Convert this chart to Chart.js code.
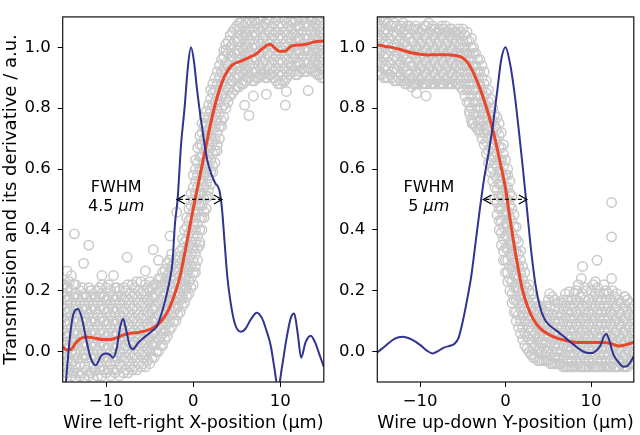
<!DOCTYPE html>
<html>
<head>
<meta charset="utf-8">
<script src="https://cdn.jsdelivr.net/npm/chart.js@4.4.1/dist/chart.umd.min.js"></script>
<style>
  body { margin: 0; background: #fff; }
  #wrap { position: relative; width: 640px; height: 435px; }
  canvas { position: absolute; top: 0; }
</style>
</head>
<body>
<div id="wrap">
  <canvas id="left" width="330" height="435" style="left:0"></canvas>
  <canvas id="right" width="310" height="435" style="left:330px"></canvas>
</div>
<script>
'use strict';

// axes
var xTicks = [-10, 0, 10];
var yTicks = [0.0, 0.2, 0.4, 0.6, 0.8, 1.0];
var xTitleLeft = 'Wire left-right X-position (µm)';
var xTitleRight = 'Wire up-down Y-position (µm)';
var yTitle = 'Transmission and its derivative / a.u.';

// measured transmission, one column per position: [x, y, y, ...]
var leftCloud = [
  [-15.0, -0.05, -0.01, 0.03, 0.07, 0.11, 0.15, 0.19, 0.22],
  [-14.5, -0.07, -0.03, 0.01, 0.05, 0.09, 0.13, 0.17, 0.21],
  [-14.0, -0.08, -0.04, 0.0, 0.04, 0.08, 0.12, 0.16, 0.2, 0.25],
  [-13.5, -0.09, -0.05, -0.01, 0.03, 0.07, 0.11, 0.15, 0.19, 0.22],
  [-13.0, -0.08, -0.04, 0.0, 0.04, 0.08, 0.12, 0.16, 0.2],
  [-12.5, -0.09, -0.05, -0.01, 0.03, 0.07, 0.11, 0.15, 0.19],
  [-12.0, -0.08, -0.04, 0.0, 0.04, 0.08, 0.12, 0.16, 0.21],
  [-11.5, -0.09, -0.05, -0.01, 0.03, 0.07, 0.11, 0.15, 0.19],
  [-11.0, -0.08, -0.04, 0.0, 0.04, 0.08, 0.12, 0.16, 0.2],
  [-10.5, -0.08, -0.05, -0.01, 0.03, 0.07, 0.11, 0.15, 0.19, 0.22],
  [-10.0, -0.07, -0.03, 0.01, 0.05, 0.09, 0.13, 0.17, 0.21],
  [-9.5, -0.08, -0.04, 0.0, 0.04, 0.08, 0.12, 0.16, 0.2],
  [-9.0, -0.07, -0.03, 0.01, 0.05, 0.09, 0.13, 0.17, 0.21],
  [-8.5, -0.08, -0.04, 0.0, 0.04, 0.08, 0.12, 0.16, 0.2],
  [-8.0, -0.07, -0.03, 0.01, 0.05, 0.09, 0.13, 0.17, 0.21],
  [-7.5, -0.07, -0.03, 0.01, 0.05, 0.09, 0.13, 0.17, 0.22],
  [-7.0, -0.06, -0.02, 0.02, 0.06, 0.1, 0.14, 0.18, 0.22],
  [-6.5, -0.06, -0.02, 0.02, 0.06, 0.1, 0.14, 0.18, 0.23],
  [-6.0, -0.05, -0.01, 0.03, 0.07, 0.11, 0.15, 0.19, 0.23],
  [-5.5, -0.05, -0.01, 0.03, 0.07, 0.11, 0.15, 0.19, 0.22],
  [-5.0, -0.04, 0.0, 0.04, 0.08, 0.12, 0.16, 0.2, 0.23],
  [-4.5, -0.02, 0.02, 0.06, 0.1, 0.14, 0.18, 0.22],
  [-4.0, 0.0, 0.04, 0.08, 0.12, 0.16, 0.2, 0.24],
  [-3.5, 0.02, 0.06, 0.1, 0.14, 0.18, 0.22, 0.26],
  [-3.0, 0.05, 0.09, 0.13, 0.17, 0.21, 0.25, 0.29],
  [-2.5, 0.08, 0.12, 0.16, 0.2, 0.24, 0.28, 0.32],
  [-2.0, 0.1, 0.14, 0.18, 0.22, 0.26, 0.3],
  [-1.5, 0.13, 0.17, 0.21, 0.25, 0.29, 0.33],
  [-1.0, 0.16, 0.2, 0.24, 0.28, 0.32, 0.36, 0.4],
  [-0.5, 0.19, 0.23, 0.27, 0.31, 0.35, 0.39, 0.43, 0.47],
  [0.0, 0.22, 0.26, 0.3, 0.34, 0.38, 0.42, 0.46, 0.5, 0.54, 0.58],
  [0.5, 0.3, 0.34, 0.38, 0.42, 0.46, 0.5, 0.54, 0.58, 0.62, 0.67],
  [1.0, 0.4, 0.44, 0.48, 0.52, 0.56, 0.6, 0.64, 0.68, 0.72, 0.75],
  [1.5, 0.47, 0.51, 0.55, 0.59, 0.63, 0.67, 0.71, 0.75, 0.79],
  [2.0, 0.55, 0.59, 0.63, 0.67, 0.71, 0.75, 0.79, 0.83, 0.86],
  [2.5, 0.62, 0.66, 0.7, 0.74, 0.78, 0.82, 0.86, 0.9],
  [3.0, 0.7, 0.74, 0.78, 0.82, 0.86, 0.9, 0.94],
  [3.5, 0.77, 0.81, 0.85, 0.89, 0.93, 0.97, 0.99],
  [4.0, 0.82, 0.86, 0.9, 0.94, 0.98, 1.02],
  [4.5, 0.85, 0.89, 0.93, 0.97, 1.01, 1.05],
  [5.0, 0.87, 0.91, 0.95, 0.99, 1.03, 1.07],
  [5.5, 0.88, 0.92, 0.96, 1.0, 1.04, 1.08],
  [6.0, 0.89, 0.93, 0.97, 1.01, 1.05, 1.08],
  [6.5, 0.9, 0.94, 0.98, 1.02, 1.06, 1.09],
  [7.0, 0.89, 0.93, 0.97, 1.01, 1.05, 1.09],
  [7.5, 0.9, 0.94, 0.98, 1.02, 1.06, 1.09],
  [8.0, 0.91, 0.95, 0.99, 1.03, 1.07, 1.1],
  [8.5, 0.9, 0.94, 0.98, 1.02, 1.06, 1.09],
  [9.0, 0.91, 0.95, 0.99, 1.03, 1.07],
  [9.5, 0.89, 0.93, 0.97, 1.01, 1.05, 1.09],
  [10.0, 0.88, 0.92, 0.96, 1.0, 1.04, 1.08],
  [10.5, 0.89, 0.93, 0.97, 1.01, 1.05, 1.09],
  [11.0, 0.91, 0.95, 0.99, 1.03, 1.07],
  [11.5, 0.92, 0.96, 1.0, 1.04, 1.08],
  [12.0, 0.91, 0.95, 0.99, 1.03, 1.07, 1.1],
  [12.5, 0.93, 0.97, 1.01, 1.05, 1.09],
  [13.0, 0.92, 0.96, 1.0, 1.04, 1.08],
  [13.5, 0.93, 0.97, 1.01, 1.05, 1.09],
  [14.0, 0.92, 0.96, 1.0, 1.04, 1.08],
  [14.5, 0.91, 0.95, 0.99, 1.03, 1.07],
  [15.0, 0.9, 0.94, 0.98, 1.02, 1.06]
];
// second pass of readings, between the columns above
var leftCloudB = [
  [-14.75, -0.06, -0.02, 0.02, 0.06, 0.1, 0.14, 0.18, 0.22],
  [-14.25, -0.06, -0.02, 0.02, 0.06, 0.1, 0.14, 0.18, 0.23],
  [-13.75, -0.07, -0.03, 0.02, 0.06, 0.1, 0.14, 0.18, 0.22],
  [-13.25, -0.07, -0.02, 0.02, 0.06, 0.1, 0.14, 0.18],
  [-12.75, -0.07, -0.02, 0.02, 0.06, 0.1, 0.14, 0.18, 0.21],
  [-12.25, -0.06, -0.02, 0.02, 0.06, 0.1, 0.14, 0.18],
  [-11.75, -0.07, -0.02, 0.02, 0.06, 0.1, 0.14, 0.18, 0.2],
  [-11.25, -0.06, -0.02, 0.02, 0.06, 0.1, 0.14, 0.18],
  [-10.75, -0.06, -0.02, 0.02, 0.06, 0.1, 0.14, 0.18, 0.21],
  [-10.25, -0.06, -0.02, 0.02, 0.06, 0.1, 0.14, 0.18],
  [-9.75, -0.06, -0.02, 0.02, 0.06, 0.1, 0.14, 0.18, 0.22],
  [-9.25, -0.06, -0.02, 0.02, 0.06, 0.1, 0.14, 0.18],
  [-8.75, -0.06, -0.02, 0.02, 0.06, 0.1, 0.14, 0.18, 0.21],
  [-8.25, -0.05, -0.02, 0.02, 0.06, 0.1, 0.14, 0.18],
  [-7.75, -0.06, -0.02, 0.02, 0.06, 0.1, 0.14, 0.18, 0.2],
  [-7.25, -0.05, -0.01, 0.03, 0.07, 0.11, 0.15, 0.19],
  [-6.75, -0.05, -0.01, 0.03, 0.07, 0.11, 0.15, 0.19, 0.21],
  [-6.25, -0.04, 0.0, 0.04, 0.08, 0.12, 0.16, 0.2],
  [-5.75, -0.04, 0.0, 0.04, 0.08, 0.12, 0.16, 0.2],
  [-5.25, -0.03, 0.01, 0.05, 0.09, 0.13, 0.17, 0.21],
  [-4.75, -0.02, 0.02, 0.06, 0.1, 0.14, 0.18, 0.21],
  [-4.25, 0.0, 0.03, 0.07, 0.11, 0.15, 0.19, 0.22],
  [-3.75, 0.02, 0.05, 0.09, 0.13, 0.17, 0.21, 0.24],
  [-3.25, 0.04, 0.07, 0.11, 0.15, 0.19, 0.23, 0.27],
  [-2.75, 0.07, 0.1, 0.14, 0.18, 0.22, 0.26, 0.3],
  [-2.25, 0.1, 0.13, 0.17, 0.21, 0.25, 0.29],
  [-1.75, 0.12, 0.15, 0.19, 0.23, 0.27, 0.31],
  [-1.25, 0.15, 0.18, 0.22, 0.26, 0.3, 0.34, 0.37],
  [-0.75, 0.18, 0.21, 0.25, 0.29, 0.33, 0.37, 0.41, 0.44],
  [-0.25, 0.21, 0.24, 0.28, 0.32, 0.36, 0.4, 0.44, 0.48, 0.52],
  [0.25, 0.26, 0.28, 0.32, 0.36, 0.4, 0.44, 0.48, 0.52, 0.56, 0.6, 0.63],
  [0.75, 0.35, 0.36, 0.4, 0.44, 0.48, 0.52, 0.56, 0.6, 0.64, 0.68, 0.71],
  [1.25, 0.44, 0.46, 0.5, 0.54, 0.58, 0.62, 0.66, 0.7, 0.74, 0.77],
  [1.75, 0.51, 0.53, 0.57, 0.61, 0.65, 0.69, 0.73, 0.77, 0.81],
  [2.25, 0.59, 0.61, 0.65, 0.69, 0.73, 0.77, 0.81, 0.85, 0.88],
  [2.75, 0.66, 0.68, 0.72, 0.76, 0.8, 0.84, 0.88, 0.92],
  [3.25, 0.74, 0.76, 0.8, 0.84, 0.88, 0.92, 0.96],
  [3.75, 0.8, 0.83, 0.87, 0.91, 0.95, 0.99, 1.01],
  [4.25, 0.84, 0.88, 0.92, 0.96, 1.0, 1.04],
  [4.75, 0.86, 0.9, 0.94, 0.98, 1.02, 1.06],
  [5.25, 0.87, 0.9, 0.94, 0.98, 1.02, 1.06, 1.08],
  [5.75, 0.88, 0.91, 0.95, 0.99, 1.03, 1.07],
  [6.25, 0.9, 0.92, 0.96, 1.0, 1.04, 1.08],
  [6.75, 0.89, 0.92, 0.96, 1.0, 1.04, 1.08],
  [7.25, 0.9, 0.92, 0.96, 1.0, 1.04, 1.08],
  [7.75, 0.91, 0.93, 0.97, 1.01, 1.05, 1.09],
  [8.25, 0.9, 0.92, 0.96, 1.0, 1.04, 1.08],
  [8.75, 0.91, 0.93, 0.97, 1.01, 1.05, 1.09],
  [9.25, 0.9, 0.92, 0.96, 1.0, 1.04, 1.08],
  [9.75, 0.88, 0.91, 0.95, 0.99, 1.03, 1.07],
  [10.25, 0.89, 0.91, 0.95, 0.99, 1.03, 1.07],
  [10.75, 0.9, 0.92, 0.96, 1.0, 1.04, 1.08],
  [11.25, 0.92, 0.94, 0.98, 1.02, 1.06, 1.09],
  [11.75, 0.91, 0.94, 0.98, 1.02, 1.06, 1.09],
  [12.25, 0.92, 0.95, 0.99, 1.03, 1.07],
  [12.75, 0.92, 0.95, 0.99, 1.03, 1.07, 1.1],
  [13.25, 0.93, 0.95, 0.99, 1.03, 1.07],
  [13.75, 0.92, 0.95, 0.99, 1.03, 1.07, 1.1],
  [14.25, 0.91, 0.94, 0.98, 1.02, 1.06, 1.09],
  [14.75, 0.9, 0.93, 0.97, 1.01, 1.05, 1.08]
];
var leftOutliers = [
  [-13.66, 0.387], [-12.0, 0.35], [-12.6, 0.29], [-7.6, 0.31], [-4.6, 0.335],
  [-4.0, 0.3], [-14.5, 0.265], [-1.9, 0.458], [-2.67, 0.38], [-10.5, 0.25],
  [-5.5, 0.265], [-9.16, 0.25], [6.4, 0.776], [8.4, 0.846], [10.58, 0.81],
  [10.7, 0.855], [13.2, 0.858], [6.9, 0.84], [5.9, 0.81]
];
// smoothed transmission and its derivative: [x, y]
var leftTransmission = [
  [-15, 0.015], [-14.5, 0.005], [-14, 0.008], [-13.5, 0.028], [-13, 0.042],
  [-12.3, 0.048], [-11.5, 0.045], [-10.5, 0.04], [-9.5, 0.04], [-8.8, 0.045],
  [-8, 0.055], [-7.2, 0.06], [-6.3, 0.063], [-5.5, 0.068], [-4.8, 0.075],
  [-4.2, 0.085], [-3.6, 0.103], [-3, 0.128], [-2.5, 0.16], [-2, 0.2],
  [-1.5, 0.25], [-1, 0.32], [-0.5, 0.395], [0, 0.47], [0.5, 0.54],
  [1, 0.61], [1.5, 0.68], [2, 0.75], [2.5, 0.81], [3, 0.86],
  [3.6, 0.905], [4.4, 0.94], [5.5, 0.955], [6.5, 0.968], [7.3, 0.98],
  [8, 0.997], [8.8, 1.01], [9.3, 1.0], [9.8, 0.988], [10.5, 0.987],
  [11.2, 1.003], [12.2, 1.008], [13, 1.01], [13.8, 1.017], [14.5, 1.02], [15, 1.02]
];
var leftDerivative = [
  [-15, -0.22], [-14.6, -0.09], [-14.2, 0.04], [-13.8, 0.12], [-13.25, 0.14],
  [-12.8, 0.11], [-12.3, 0.04], [-11.8, -0.02], [-11.2, -0.045], [-10.6, -0.015],
  [-10.1, -0.006], [-9.6, -0.01], [-9.2, -0.02], [-8.8, 0.01], [-8.4, 0.08],
  [-8.05, 0.107], [-7.7, 0.07], [-7.3, 0.02], [-6.95, 0.008], [-6.3, 0.03],
  [-5.5, 0.05], [-4.8, 0.066], [-4.2, 0.082], [-3.7, 0.12], [-3.25, 0.165],
  [-2.7, 0.235], [-2.4, 0.29], [-2.1, 0.42], [-1.8, 0.5], [-1.4, 0.68],
  [-1, 0.8], [-0.6, 0.94], [-0.26, 1.0], [0.1, 0.95], [0.4, 0.87],
  [0.8, 0.78], [1.2, 0.7], [1.6, 0.63], [2, 0.59], [2.5, 0.555],
  [3, 0.53], [3.3, 0.47], [3.6, 0.36], [3.9, 0.25], [4.3, 0.16],
  [4.8, 0.09], [5.5, 0.065], [6, 0.075], [6.6, 0.105], [7.3, 0.128],
  [7.9, 0.11], [8.4, 0.07], [8.9, 0.02], [9.3, -0.05], [9.75, -0.12],
  [10.2, -0.05], [10.7, 0.04], [11.2, 0.11], [11.6, 0.125], [12, 0.06],
  [12.4, -0.02], [12.9, 0.03], [13.5, 0.052], [14, 0.03], [14.5, -0.01], [15, -0.05]
];

var rightCloud = [
  [-15.0, 0.92, 0.96, 1.0, 1.04, 1.08],
  [-14.5, 0.91, 0.95, 0.99, 1.03, 1.07, 1.1],
  [-14.0, 0.9, 0.94, 0.98, 1.02, 1.06, 1.09],
  [-13.5, 0.91, 0.95, 0.99, 1.03, 1.07],
  [-13.0, 0.89, 0.93, 0.97, 1.01, 1.05, 1.08],
  [-12.5, 0.9, 0.94, 0.98, 1.02, 1.06],
  [-12.0, 0.89, 0.93, 0.97, 1.01, 1.05, 1.08],
  [-11.5, 0.88, 0.92, 0.96, 1.0, 1.04, 1.07],
  [-11.0, 0.9, 0.94, 0.98, 1.02, 1.06],
  [-10.5, 0.88, 0.92, 0.96, 1.0, 1.04, 1.07],
  [-10.0, 0.89, 0.93, 0.97, 1.01, 1.05],
  [-9.5, 0.88, 0.92, 0.96, 1.0, 1.04, 1.07],
  [-9.0, 0.89, 0.93, 0.97, 1.01, 1.05, 1.08],
  [-8.5, 0.88, 0.92, 0.96, 1.0, 1.04, 1.07],
  [-8.0, 0.89, 0.93, 0.97, 1.01, 1.05],
  [-7.5, 0.88, 0.92, 0.96, 1.0, 1.04, 1.07],
  [-7.0, 0.89, 0.93, 0.97, 1.01, 1.05, 1.07],
  [-6.5, 0.88, 0.92, 0.96, 1.0, 1.04, 1.06],
  [-6.0, 0.89, 0.93, 0.97, 1.01, 1.05],
  [-5.5, 0.88, 0.92, 0.96, 1.0, 1.04, 1.06],
  [-5.0, 0.86, 0.9, 0.94, 0.98, 1.02, 1.06],
  [-4.5, 0.82, 0.86, 0.9, 0.94, 0.98, 1.02, 1.05],
  [-4.0, 0.76, 0.8, 0.84, 0.88, 0.92, 0.96, 1.0, 1.03],
  [-3.5, 0.74, 0.78, 0.82, 0.86, 0.9, 0.94, 0.98],
  [-3.0, 0.72, 0.76, 0.8, 0.84, 0.88, 0.92, 0.96],
  [-2.5, 0.68, 0.72, 0.76, 0.8, 0.84, 0.88, 0.92],
  [-2.0, 0.62, 0.66, 0.7, 0.74, 0.78, 0.82, 0.86],
  [-1.5, 0.56, 0.6, 0.64, 0.68, 0.72, 0.76, 0.8],
  [-1.0, 0.45, 0.49, 0.53, 0.57, 0.61, 0.65, 0.69, 0.73, 0.77],
  [-0.5, 0.35, 0.39, 0.43, 0.47, 0.51, 0.55, 0.59, 0.63, 0.67, 0.72],
  [0.0, 0.26, 0.3, 0.34, 0.38, 0.42, 0.46, 0.5, 0.54, 0.58, 0.63],
  [0.5, 0.2, 0.24, 0.28, 0.32, 0.36, 0.4, 0.44, 0.48, 0.52, 0.56],
  [1.0, 0.13, 0.17, 0.21, 0.25, 0.29, 0.33, 0.37, 0.41, 0.45],
  [1.5, 0.08, 0.12, 0.16, 0.2, 0.24, 0.28, 0.32, 0.36],
  [2.0, 0.04, 0.08, 0.12, 0.16, 0.2, 0.24, 0.28],
  [2.5, 0.01, 0.05, 0.09, 0.13, 0.17, 0.21],
  [3.0, -0.01, 0.03, 0.07, 0.11, 0.15, 0.19],
  [3.5, -0.02, 0.02, 0.06, 0.1, 0.14, 0.16],
  [4.0, -0.03, 0.01, 0.05, 0.09, 0.13, 0.15],
  [4.5, -0.03, 0.01, 0.05, 0.09, 0.13],
  [5.0, -0.03, 0.01, 0.05, 0.09, 0.13, 0.17],
  [5.5, -0.04, 0.0, 0.04, 0.08, 0.12, 0.18],
  [6.0, -0.04, 0.0, 0.04, 0.08, 0.12, 0.16],
  [6.5, -0.04, 0.0, 0.04, 0.08, 0.12, 0.16],
  [7.0, -0.05, -0.01, 0.03, 0.07, 0.11, 0.15, 0.19],
  [7.5, -0.05, -0.01, 0.03, 0.07, 0.11, 0.15],
  [8.0, -0.05, -0.01, 0.03, 0.07, 0.11, 0.15, 0.19],
  [8.5, -0.04, 0.0, 0.04, 0.08, 0.12, 0.16, 0.22],
  [9.0, -0.05, -0.01, 0.03, 0.07, 0.11, 0.15, 0.19],
  [9.5, -0.05, -0.01, 0.03, 0.07, 0.11, 0.15, 0.2],
  [10.0, -0.04, 0.0, 0.04, 0.08, 0.12, 0.16, 0.2],
  [10.5, -0.05, -0.01, 0.03, 0.07, 0.11, 0.15, 0.19, 0.23],
  [11.0, -0.05, -0.01, 0.03, 0.07, 0.11, 0.15, 0.19],
  [11.5, -0.05, -0.01, 0.03, 0.07, 0.11, 0.15, 0.19, 0.22],
  [12.0, -0.05, -0.01, 0.03, 0.07, 0.11, 0.15, 0.19],
  [12.5, -0.04, 0.0, 0.04, 0.08, 0.12, 0.16, 0.2],
  [13.0, -0.05, -0.01, 0.03, 0.07, 0.11, 0.15, 0.19],
  [13.5, -0.04, 0.0, 0.04, 0.08, 0.12, 0.16],
  [14.0, -0.05, -0.01, 0.03, 0.07, 0.11, 0.15, 0.18],
  [14.5, -0.04, 0.0, 0.04, 0.08, 0.12, 0.16],
  [15.0, -0.04, 0.0, 0.04, 0.08, 0.12, 0.15]
];
var rightCloudB = [
  [-14.75, 0.91, 0.94, 0.98, 1.02, 1.06, 1.09],
  [-14.25, 0.9, 0.93, 0.97, 1.01, 1.05, 1.09],
  [-13.75, 0.9, 0.93, 0.97, 1.01, 1.05, 1.08],
  [-13.25, 0.9, 0.92, 0.96, 1.0, 1.04, 1.07],
  [-12.75, 0.89, 0.92, 0.96, 1.0, 1.04, 1.07],
  [-12.25, 0.89, 0.91, 0.95, 0.99, 1.03, 1.07],
  [-11.75, 0.88, 0.9, 0.94, 0.98, 1.02, 1.06],
  [-11.25, 0.89, 0.91, 0.95, 0.99, 1.03, 1.07],
  [-10.75, 0.88, 0.9, 0.94, 0.98, 1.02, 1.06],
  [-10.25, 0.88, 0.91, 0.95, 0.99, 1.03, 1.06],
  [-9.75, 0.88, 0.9, 0.94, 0.98, 1.02, 1.06],
  [-9.25, 0.88, 0.91, 0.95, 0.99, 1.03, 1.07],
  [-8.75, 0.88, 0.9, 0.94, 0.98, 1.02, 1.06],
  [-8.25, 0.88, 0.91, 0.95, 0.99, 1.03, 1.06],
  [-7.75, 0.88, 0.9, 0.94, 0.98, 1.02, 1.06],
  [-7.25, 0.88, 0.91, 0.95, 0.99, 1.03, 1.06],
  [-6.75, 0.88, 0.9, 0.94, 0.98, 1.02, 1.05],
  [-6.25, 0.88, 0.91, 0.95, 0.99, 1.03, 1.06],
  [-5.75, 0.88, 0.9, 0.94, 0.98, 1.02, 1.05],
  [-5.25, 0.87, 0.89, 0.93, 0.97, 1.01, 1.05],
  [-4.75, 0.84, 0.88, 0.92, 0.96, 1.0, 1.04],
  [-4.25, 0.79, 0.82, 0.86, 0.9, 0.94, 0.98, 1.02],
  [-3.75, 0.75, 0.78, 0.82, 0.86, 0.9, 0.94, 0.98, 1.0],
  [-3.25, 0.73, 0.76, 0.8, 0.84, 0.88, 0.92, 0.96],
  [-2.75, 0.7, 0.74, 0.78, 0.82, 0.86, 0.9, 0.94],
  [-2.25, 0.65, 0.69, 0.73, 0.77, 0.81, 0.85, 0.89],
  [-1.75, 0.59, 0.63, 0.67, 0.71, 0.75, 0.79, 0.83],
  [-1.25, 0.5, 0.54, 0.58, 0.62, 0.66, 0.7, 0.74, 0.78],
  [-0.75, 0.4, 0.43, 0.47, 0.51, 0.55, 0.59, 0.63, 0.67, 0.71, 0.75],
  [-0.25, 0.3, 0.33, 0.37, 0.41, 0.45, 0.49, 0.53, 0.57, 0.61, 0.65, 0.68],
  [0.25, 0.23, 0.26, 0.3, 0.34, 0.38, 0.42, 0.46, 0.5, 0.54, 0.58, 0.6],
  [0.75, 0.16, 0.19, 0.23, 0.27, 0.31, 0.35, 0.39, 0.43, 0.47, 0.51],
  [1.25, 0.1, 0.13, 0.17, 0.21, 0.25, 0.29, 0.33, 0.37, 0.41],
  [1.75, 0.06, 0.1, 0.14, 0.18, 0.22, 0.26, 0.3, 0.33],
  [2.25, 0.02, 0.06, 0.1, 0.14, 0.18, 0.22, 0.26],
  [2.75, 0.0, 0.04, 0.08, 0.12, 0.16, 0.2, 0.22],
  [3.25, -0.02, 0.01, 0.05, 0.09, 0.13, 0.17],
  [3.75, -0.03, 0.0, 0.04, 0.08, 0.12, 0.15],
  [4.25, -0.03, 0.0, 0.03, 0.07, 0.11, 0.14],
  [4.75, -0.03, 0.0, 0.03, 0.07, 0.11, 0.15],
  [5.25, -0.04, -0.01, 0.03, 0.07, 0.11, 0.15],
  [5.75, -0.04, -0.02, 0.02, 0.06, 0.1, 0.14, 0.17],
  [6.25, -0.04, -0.02, 0.02, 0.06, 0.1, 0.14],
  [6.75, -0.05, -0.02, 0.02, 0.06, 0.1, 0.14, 0.17],
  [7.25, -0.05, -0.03, 0.01, 0.05, 0.09, 0.13, 0.17],
  [7.75, -0.05, -0.03, 0.01, 0.05, 0.09, 0.13, 0.17],
  [8.25, -0.05, -0.03, 0.01, 0.05, 0.09, 0.13, 0.17, 0.2],
  [8.75, -0.05, -0.02, 0.02, 0.06, 0.1, 0.14, 0.18],
  [9.25, -0.05, -0.03, 0.01, 0.05, 0.09, 0.13, 0.17, 0.21],
  [9.75, -0.05, -0.03, 0.01, 0.05, 0.09, 0.13, 0.17],
  [10.25, -0.05, -0.02, 0.02, 0.06, 0.1, 0.14, 0.18, 0.22],
  [10.75, -0.05, -0.03, 0.01, 0.05, 0.09, 0.13, 0.17, 0.21],
  [11.25, -0.05, -0.03, 0.01, 0.05, 0.09, 0.13, 0.17],
  [11.75, -0.05, -0.03, 0.01, 0.05, 0.09, 0.13, 0.17, 0.2],
  [12.25, -0.05, -0.03, 0.01, 0.05, 0.09, 0.13, 0.17],
  [12.75, -0.05, -0.02, 0.02, 0.06, 0.1, 0.14, 0.18],
  [13.25, -0.05, -0.03, 0.01, 0.05, 0.09, 0.13, 0.17],
  [13.75, -0.05, -0.02, 0.02, 0.06, 0.1, 0.14],
  [14.25, -0.05, -0.03, 0.01, 0.05, 0.09, 0.13, 0.17],
  [14.75, -0.04, -0.02, 0.02, 0.06, 0.1, 0.14]
];
var rightOutliers = [
  [12.4, 0.49], [12.4, 0.377], [10.7, 0.3], [9.0, 0.28], [8.85, 0.24],
  [12.4, 0.24], [13.9, 0.18], [7.45, 0.197], [5.15, 0.19], [-10.4, 0.85],
  [-9.3, 0.84], [-4.2, 0.78], [-3.9, 0.75], [-11.0, 0.87], [-3.0, 0.73]
];
var rightTransmission = [
  [-15, 1.008], [-14, 1.003], [-13, 0.998], [-12, 0.99], [-11, 0.982],
  [-10, 0.977], [-9, 0.975], [-8, 0.976], [-7, 0.976], [-6, 0.974],
  [-5.5, 0.971], [-5, 0.965], [-4.5, 0.952], [-4, 0.93], [-3.5, 0.9],
  [-3, 0.865], [-2.5, 0.825], [-2, 0.78], [-1.5, 0.73], [-1, 0.67],
  [-0.5, 0.605], [0, 0.535], [0.5, 0.44], [1, 0.35], [1.5, 0.27],
  [2, 0.2], [2.5, 0.155], [3, 0.12], [3.5, 0.095], [4, 0.078],
  [4.5, 0.066], [5.5, 0.05], [6.5, 0.04], [7.5, 0.033], [8.5, 0.03],
  [9.5, 0.03], [10.5, 0.03], [11.5, 0.03], [12.5, 0.025], [13.2, 0.018],
  [14, 0.022], [15, 0.03]
];
var rightDerivative = [
  [-15, -0.003], [-14, 0.02], [-13, 0.042], [-12, 0.049], [-11, 0.04],
  [-10, 0.022], [-9.2, 0.003], [-8.5, -0.006], [-8, 0.0], [-7.2, 0.013],
  [-6.4, 0.02], [-6, 0.025], [-5.5, 0.045], [-5, 0.1], [-4.5, 0.17],
  [-4, 0.25], [-3.5, 0.36], [-3, 0.47], [-2.5, 0.57], [-2, 0.65],
  [-1.5, 0.74], [-1, 0.85], [-0.5, 0.96], [0, 1.0], [0.5, 0.95],
  [1, 0.86], [1.5, 0.74], [2, 0.61], [2.5, 0.47], [3, 0.33],
  [3.5, 0.22], [4, 0.15], [4.5, 0.11], [5, 0.09], [6, 0.068],
  [7, 0.045], [8, 0.022], [8.8, 0.005], [9.5, -0.004], [10, -0.005],
  [10.6, 0.003], [11.1, 0.02], [11.5, 0.05], [11.8, 0.058], [12.1, 0.04],
  [12.6, -0.008], [13.2, -0.035], [13.8, -0.05], [14.2, -0.048], [14.6, -0.035],
  [15, -0.015]
];

// FWHM markers (µm, transmission units)
var leftFwhm = { from: -1.87, to: 3.29, level: 0.5, width: '4.5' };
var rightFwhm = { from: -2.59, to: 2.49, level: 0.5, width: '5' };

var grey = '#c9c9c9';
var red = '#e8472b';
var blue = '#30338f';
var fontFamily = '"DejaVu Sans", sans-serif';

function cloudPoints(colSets, extra) {
  var pts = [];
  colSets.forEach(function(cols) {
    cols.forEach(function(c) {
      for (let i = 1; i < c.length; i++) pts.push({ x: c[0], y: c[i] });
    });
  });
  extra.forEach(function(p) { pts.push({ x: p[0], y: p[1] }); });
  return pts;
}

function toXY(arr) {
  return arr.map(function(p) { return { x: p[0], y: p[1] }; });
}

function fmtX(v) {
  return v < 0 ? '\u2212' + Math.abs(v) : String(v);
}

// matplotlib-like box around the axes
var framePlugin = {
  id: 'frame',
  afterDraw: function(chart) {
    var a = chart.chartArea, ctx = chart.ctx;
    ctx.save();
    ctx.strokeStyle = '#111';
    ctx.lineWidth = 1.2;
    ctx.strokeRect(a.left, a.top, a.right - a.left, a.bottom - a.top);
    ctx.restore();
  }
};

var fwhmPlugin = {
  id: 'fwhm',
  afterDatasetsDraw: function(chart, args, opts) {
    var xs = chart.scales.x, ys = chart.scales.y, ctx = chart.ctx;
    var x0 = xs.getPixelForValue(opts.from);
    var x1 = xs.getPixelForValue(opts.to);
    var y = ys.getPixelForValue(opts.level);
    ctx.save();
    ctx.strokeStyle = '#000';
    ctx.lineWidth = 1.3;
    ctx.setLineDash([4, 2.5]);
    ctx.beginPath();
    ctx.moveTo(x0 + 2, y);
    ctx.lineTo(x1 - 2, y);
    ctx.stroke();
    ctx.setLineDash([]);
    ctx.beginPath();
    ctx.moveTo(x0 + 8, y - 4.5); ctx.lineTo(x0, y); ctx.lineTo(x0 + 8, y + 4.5);
    ctx.moveTo(x1 - 8, y - 4.5); ctx.lineTo(x1, y); ctx.lineTo(x1 - 8, y + 4.5);
    ctx.stroke();

    var tx = xs.getPixelForValue(opts.textX);
    ctx.fillStyle = '#000';
    ctx.textBaseline = 'middle';
    ctx.textAlign = 'center';
    ctx.font = '16px ' + fontFamily;
    ctx.fillText('FWHM', tx, ys.getPixelForValue(opts.textY1));
    var a = opts.width + ' ';
    var wa = ctx.measureText(a).width;
    ctx.font = 'italic 16px ' + fontFamily;
    var wb = ctx.measureText('\u03bcm').width;
    var sx = tx - (wa + wb) / 2, ty = ys.getPixelForValue(opts.textY2);
    ctx.textAlign = 'left';
    ctx.font = '16px ' + fontFamily;
    ctx.fillText(a, sx, ty);
    ctx.font = 'italic 16px ' + fontFamily;
    ctx.fillText('\u03bcm', sx + wa, ty);
    ctx.restore();
  }
};

function scales(xTitle, withYTitle, yWidth) {
  var tickFont = { family: fontFamily, size: 16.5 };
  var xTitleFont = { family: fontFamily, size: 17.5 };
  var yTitleFont = { family: fontFamily, size: 18 };
  return {
    x: {
      type: 'linear', min: -15, max: 15,
      afterBuildTicks: function(s) { s.ticks = xTicks.map(function(v) { return { value: v }; }); },
      afterFit: function(s) { s.height = 53; },
      grid: { drawOnChartArea: false, drawTicks: true, tickLength: 5, color: '#000', tickColor: '#000' },
      border: { display: false },
      ticks: { font: tickFont, color: '#000', padding: 5, maxRotation: 0, callback: fmtX },
      title: { display: true, text: xTitle, font: xTitleFont, color: '#000', padding: { top: 0, bottom: 1 } }
    },
    y: {
      type: 'linear', min: -0.1, max: 1.1,
      afterBuildTicks: function(s) { s.ticks = yTicks.map(function(v) { return { value: v }; }); },
      afterFit: function(s) { s.width = yWidth; },
      grid: { drawOnChartArea: false, drawTicks: true, tickLength: 5, color: '#000', tickColor: '#000' },
      border: { display: false },
      ticks: { font: tickFont, color: '#000', padding: 7, callback: function(v) { return v.toFixed(1); } },
      title: { display: withYTitle, text: yTitle, font: yTitleFont, color: '#000', padding: { top: 1, bottom: 0 } }
    }
  };
}

function makeChart(id, clouds, outliers, trans, deriv, fwhm, xTitle, withYTitle, yWidth, padRight) {
  var ctx = document.getElementById(id).getContext('2d');
  return new Chart(ctx, {
    type: 'scatter',
    data: {
      datasets: [
        {
          data: cloudPoints(clouds, outliers),
          pointStyle: 'circle', pointRadius: 4.7, pointBorderWidth: 1.5,
          pointBorderColor: grey, pointBackgroundColor: 'rgba(0,0,0,0)',
          order: 3
        },
        {
          data: toXY(trans), showLine: true, borderColor: red, borderWidth: 3,
          pointRadius: 0, cubicInterpolationMode: 'monotone', order: 2
        },
        {
          data: toXY(deriv), showLine: true, borderColor: blue, borderWidth: 2,
          pointRadius: 0, cubicInterpolationMode: 'monotone', order: 1
        }
      ]
    },
    options: {
      responsive: false,
      animation: false,
      events: [],
      layout: { padding: { left: 0, right: padRight, top: 1, bottom: 0 } },
      plugins: { legend: { display: false }, tooltip: { enabled: false }, fwhm: fwhm },
      scales: scales(xTitle, withYTitle, yWidth)
    },
    plugins: [fwhmPlugin, framePlugin]
  });
}

leftFwhm.textX = -8.85; leftFwhm.textY1 = 0.537; leftFwhm.textY2 = 0.477;
rightFwhm.textX = -8.97; rightFwhm.textY1 = 0.537; rightFwhm.textY2 = 0.477;

makeChart('left', [leftCloud, leftCloudB], leftOutliers, leftTransmission, leftDerivative, leftFwhm, xTitleLeft, true, 62.7, 5);
makeChart('right', [rightCloud, rightCloudB], rightOutliers, rightTransmission, rightDerivative, rightFwhm, xTitleRight, false, 47.3, 1.7);
</script>
</body>
</html>
